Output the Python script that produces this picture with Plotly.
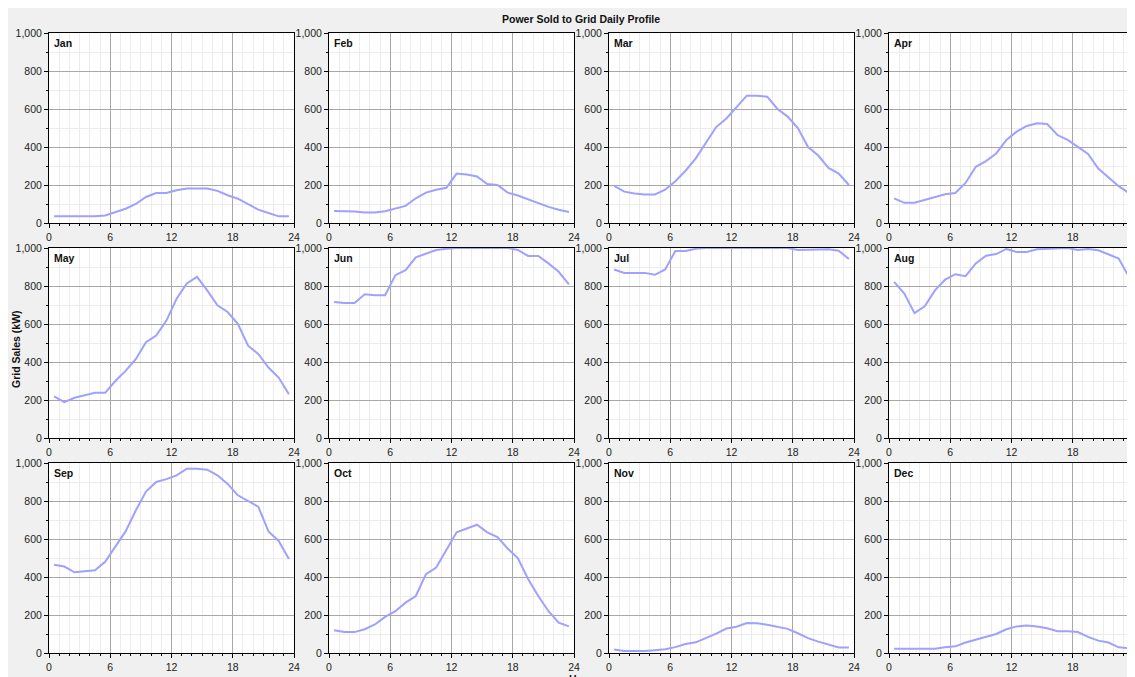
import plotly.graph_objects as go
from plotly.subplots import make_subplots

hours = [h + 0.5 for h in range(24)]
months = ["Jan", "Feb", "Mar", "Apr", "May", "Jun", "Jul", "Aug", "Sep", "Oct", "Nov", "Dec"]

jan = [35, 35, 35, 35, 35, 40, 58, 75, 100, 137, 158, 158, 172, 181, 181, 181, 169, 146, 128, 99, 70, 53, 35, 35]
feb = [63, 63, 60, 55, 55, 62, 78, 90, 130, 160, 175, 185, 260, 255, 245, 205, 200, 160, 145, 125, 105, 85, 70, 58]
mar = [195, 165, 155, 150, 150, 175, 220, 275, 340, 420, 505, 550, 610, 670, 670, 665, 600, 560, 500, 400, 355, 290, 260, 200]
apr = [130, 106, 107, 123, 137, 151, 158, 211, 296, 326, 366, 437, 481, 511, 525, 521, 463, 437, 401, 363, 287, 243, 194, 158]
may = [219, 189, 212, 226, 238, 238, 300, 353, 415, 504, 539, 618, 733, 813, 848, 777, 698, 663, 601, 486, 442, 371, 318, 230]
jun = [716, 710, 710, 756, 751, 751, 857, 883, 951, 968, 989, 996, 1000, 1000, 1000, 1000, 1000, 1000, 990, 958, 958, 919, 875, 809]
jul = [887, 869, 869, 869, 859, 887, 984, 984, 996, 1000, 1000, 1000, 1000, 1000, 1000, 1000, 1000, 1000, 990, 990, 993, 993, 986, 942]
aug = [822, 760, 657, 693, 777, 834, 862, 852, 919, 959, 968, 995, 979, 979, 993, 996, 1000, 1000, 990, 995, 988, 968, 945, 848]
sep = [465, 455, 425, 430, 435, 480, 560, 640, 750, 850, 900, 915, 935, 970, 970, 965, 935, 890, 830, 800, 770, 640, 590, 495]
oct_ = [120, 110, 110, 125, 150, 190, 220, 265, 300, 415, 450, 540, 635, 655, 675, 635, 610, 550, 500, 390, 300, 220, 160, 140]
nov = [18, 11, 11, 11, 15, 20, 31, 47, 56, 78, 102, 129, 138, 158, 156, 149, 140, 127, 104, 78, 60, 45, 29, 29]
dec = [22, 22, 22, 22, 22, 30, 35, 55, 70, 85, 100, 125, 140, 145, 140, 130, 115, 115, 110, 85, 65, 55, 30, 25]
series = [jan, feb, mar, apr, may, jun, jul, aug, sep, oct_, nov, dec]

x_ticks = [0, 6, 12, 18, 24]
y_ticks = [0, 200, 400, 600, 800, 1000]

# the page body adds an 8 px white margin; the figure fills the rest of the window
W, H = 1127, 669
FONT = "Liberation Sans Narrow, Arial Narrow, Liberation Sans, Arial, sans-serif"
LINE = "#a0a0ff"

fig = make_subplots(rows=3, cols=4)

plot_w, plot_h = 245, 190
col_left = [41, 321, 601, 881]
row_top = [25, 240, 455]

for i, (m, vals) in enumerate(zip(months, series)):
    r, c = divmod(i, 4)
    fig.add_trace(go.Scatter(x=hours, y=vals, mode="lines", line=dict(color=LINE, width=2),
                             showlegend=False, hoverinfo="x+y"), row=r + 1, col=c + 1)
    idx = "" if i == 0 else str(i + 1)
    x0 = col_left[c] / W
    x1 = min((col_left[c] + plot_w) / W, 1.0)
    ytop = 1 - row_top[r] / H
    ybot = 1 - (row_top[r] + plot_h) / H
    fig.layout["xaxis" + idx].update(
        domain=[x0, x1], range=[0, 24], tickvals=x_ticks, ticktext=[str(t) for t in x_ticks],
        automargin=False,
        showgrid=True, gridcolor="#a8a8a8", gridwidth=1,
        showline=True, linecolor="black", linewidth=1, mirror=True,
        ticks="outside", ticklen=4, tickcolor="black", zeroline=False,
        tickfont=dict(family=FONT, size=10.5, color="#222"),
        minor=dict(dtick=1, tick0=0, showgrid=True, gridcolor="#ececec", ticks="outside",
                   ticklen=2, tickcolor="black"),
    )
    fig.layout["yaxis" + idx].update(
        domain=[ybot, ytop], range=[0, 1000], tickvals=y_ticks, tickformat=",d",
        automargin=False,
        showgrid=True, gridcolor="#a8a8a8", gridwidth=1,
        showline=True, linecolor="black", linewidth=1, mirror=True,
        ticks="outside", ticklen=4, tickcolor="black", zeroline=False,
        tickfont=dict(family=FONT, size=10.5, color="#222"),
        minor=dict(dtick=100, tick0=0, showgrid=True, gridcolor="#ececec", ticks="outside",
                   ticklen=2, tickcolor="black"),
    )
    fig.add_annotation(text="<b>" + m + "</b>", xref="x" + idx + " domain", yref="y" + idx + " domain",
                       x=0, y=1, xanchor="left", yanchor="top", xshift=3, yshift=-2,
                       showarrow=False, font=dict(family=FONT, size=10.5, color="#111"))

fig.add_annotation(text="<b>Power Sold to Grid Daily Profile</b>", xref="paper", yref="paper",
                   x=573 / W, y=1 - 11 / H, xanchor="center", yanchor="middle", showarrow=False,
                   font=dict(family=FONT, size=10.5, color="#111"))
fig.add_annotation(text="<b>Grid Sales (kW)</b>", xref="paper", yref="paper",
                   x=8 / W, y=1 - 341 / H, xanchor="center", yanchor="middle", textangle=-90,
                   showarrow=False, font=dict(family=FONT, size=10.5, color="#111"))
fig.add_annotation(text="<b>Hour</b>", xref="paper", yref="paper",
                   x=573 / W, y=1 - 663 / H, xanchor="center", yanchor="top", showarrow=False,
                   font=dict(family=FONT, size=10.5, color="#111"))

fig.update_layout(width=W, height=H, margin=dict(l=0, r=0, t=0, b=0, autoexpand=False),
                  paper_bgcolor="#f0f0f0", plot_bgcolor="white", showlegend=False)

fig.write_html("out.html")
